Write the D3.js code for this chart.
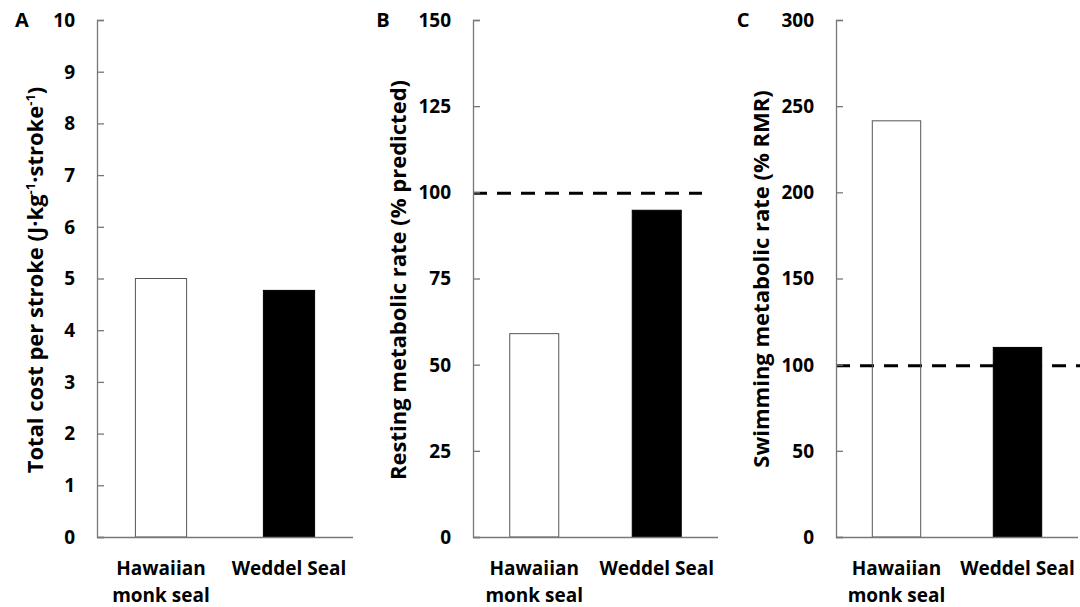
<!DOCTYPE html>
<html>
<head>
<meta charset="utf-8">
<script src="https://cdn.jsdelivr.net/npm/d3@7"></script>
<style>
  body { margin: 0; background: #fff; }
  svg text { font-family: "Open Sans", Lato, sans-serif; font-weight: bold; fill: #000; }
</style>
</head>
<body>
<div id="chart"></div>
<script>
// data
var species = ["Hawaiian monk seal", "Weddel Seal"];
var costPerStroke = [5.0, 4.77];      // panel A
var restingRate = [59.0, 94.8];       // panel B
var swimmingRate = [241.5, 110.0];    // panel C
var panelLetters = ["A", "B", "C"];
var yMax = [10, 150, 300];
var yTicks = [
    [0, 1, 2, 3, 4, 5, 6, 7, 8, 9, 10],
    [0, 25, 50, 75, 100, 125, 150],
    [0, 50, 100, 150, 200, 250, 300]
];
var refLines = [null, 100, 100];

var svg = d3.select("#chart")
    .append("svg")
    .attr("width", 1080)
    .attr("height", 607);

var panels = [
    { values: costPerStroke, axisX: 97, right: 353, dashEnd: 353, letterX: 22, titleX: 43, titleY: 280 },
    { values: restingRate, axisX: 473, right: 718, dashEnd: 702, letterX: 383, titleX: 406, titleY: 280 },
    { values: swimmingRate, axisX: 836, right: 1078, dashEnd: 1082, letterX: 743, titleX: 769, titleY: 279 }
];

var plotTop = 20, plotBottom = 537;

panels.forEach(function (p, i) {
    var g = svg.append("g");

    var y = d3.scaleLinear().domain([0, yMax[i]]).range([plotBottom, plotTop]);
    var x = d3.scaleBand()
        .domain(species)
        .range([p.axisX, p.right])
        .paddingInner(0.6)
        .paddingOuter(0.3);

    // dashed reference line (under the bars)
    if (refLines[i] != null) {
        g.append("line")
            .attr("x1", p.axisX).attr("x2", p.dashEnd)
            .attr("y1", y(refLines[i]) + 1).attr("y2", y(refLines[i]) + 1)
            .attr("stroke", "#000")
            .attr("stroke-width", 3)
            .attr("stroke-dasharray", "14,10");
    }

    // bars
    g.selectAll("rect")
        .data(species)
        .enter()
        .append("rect")
        .attr("x", function (d) { return x(d); })
        .attr("y", function (d, j) { return y(p.values[j]); })
        .attr("width", x.bandwidth())
        .attr("height", function (d, j) { return plotBottom - y(p.values[j]); })
        .attr("fill", function (d, j) { return j == 0 ? "none" : "#000"; })
        .attr("stroke", function (d, j) { return j == 0 ? "#555" : "#000"; })
        .attr("stroke-width", 1);

    // x axis line
    g.append("line")
        .attr("x1", p.axisX).attr("x2", p.right)
        .attr("y1", plotBottom + 0.5).attr("y2", plotBottom + 0.5)
        .attr("stroke", "#777").attr("stroke-width", 1.3);

    // y axis, ticks pointing inward
    var yAxis = d3.axisRight(y).tickValues(yTicks[i]).tickSize(7).tickFormat("");
    g.append("g")
        .attr("transform", "translate(" + p.axisX + ",0)")
        .call(yAxis)
        .call(function (a) {
            a.select(".domain").attr("stroke", "#777").attr("stroke-width", 1.3);
            a.selectAll(".tick line").attr("stroke", "#777").attr("stroke-width", 1.3);
        });

    // tick labels
    g.selectAll(".ylab")
        .data(yTicks[i])
        .enter()
        .append("text")
        .attr("class", "ylab")
        .attr("x", p.axisX - 22)
        .attr("y", function (d) { return y(d); })
        .attr("dy", "0.36em")
        .attr("text-anchor", "end")
        .style("font-size", "19px")
        .text(function (d) { return d; });

    // category labels
    g.selectAll(".xlab")
        .data(species)
        .enter()
        .append("text")
        .attr("class", "xlab")
        .attr("text-anchor", "middle")
        .attr("x", function (d) { return x(d) + x.bandwidth() / 2; })
        .attr("y", 575)
        .style("font-size", "19px")
        .each(function (d) {
            var t = d3.select(this);
            if (d == "Hawaiian monk seal") {
                t.append("tspan").attr("x", x(d) + x.bandwidth() / 2).text("Hawaiian");
                t.append("tspan").attr("x", x(d) + x.bandwidth() / 2).attr("dy", 27).text("monk seal");
            } else {
                t.text(d);
            }
        });

    // panel letter
    g.append("text")
        .attr("x", p.letterX)
        .attr("y", 27)
        .attr("text-anchor", "middle")
        .style("font-size", "20px")
        .text(panelLetters[i]);

    // y axis title
    var t = svg.append("text")
        .attr("transform", "translate(" + p.titleX + "," + p.titleY + ") rotate(-90)")
        .attr("text-anchor", "middle")
        .style("font-size", "22px");
    if (i == 0) {
        t.append("tspan").text("Total cost per stroke (J·kg");
        t.append("tspan").attr("dy", -8).style("font-size", "13px").text("-1");
        t.append("tspan").attr("dy", 8).text("·stroke");
        t.append("tspan").attr("dy", -8).style("font-size", "13px").text("-1");
        t.append("tspan").attr("dy", 8).text(")");
    } else if (i == 1) {
        t.text("Resting metabolic rate (% predicted)");
    } else {
        t.text("Swimming metabolic rate (% RMR)");
    }
});
</script>
</body>
</html>
